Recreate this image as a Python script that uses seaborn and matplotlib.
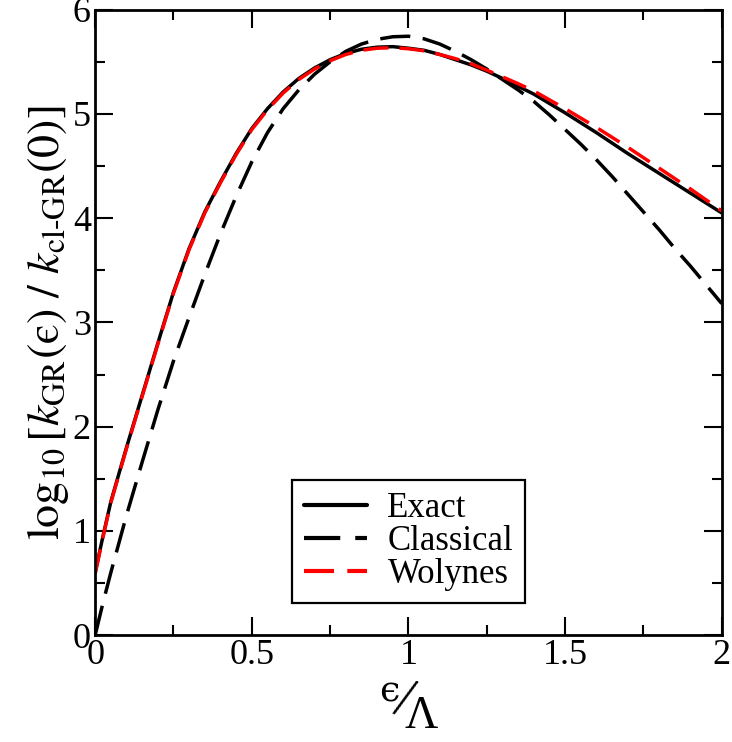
import numpy as np
import pandas as pd
import matplotlib
matplotlib.use("Agg")
import matplotlib.pyplot as plt
import seaborn as sns
from matplotlib.ticker import MultipleLocator, FuncFormatter

# ---- data ----
x_exact = [0.0, 0.025, 0.05, 0.1, 0.15, 0.2, 0.25, 0.3, 0.35, 0.4, 0.45, 0.5, 0.55, 0.6,
           0.65, 0.7, 0.75, 0.8, 0.85, 0.9, 0.95, 1.0, 1.05, 1.1, 1.15, 1.2, 1.25, 1.3,
           1.35, 1.4, 1.5, 1.6, 1.7, 1.8, 1.9, 2.0]
y_exact = [0.60, 0.95, 1.28, 1.80, 2.30, 2.80, 3.29, 3.71, 4.06, 4.35, 4.62, 4.86, 5.05, 5.21,
           5.34, 5.44, 5.52, 5.58, 5.62, 5.64, 5.645, 5.63, 5.61, 5.57, 5.52, 5.47, 5.41, 5.34,
           5.265, 5.19, 5.01, 4.82, 4.62, 4.43, 4.24, 4.05]

x_class = [0.0, 0.025, 0.05, 0.1, 0.15, 0.2, 0.25, 0.3, 0.35, 0.4, 0.45, 0.5, 0.55, 0.6,
           0.65, 0.7, 0.75, 0.8, 0.85, 0.9, 0.95, 1.0, 1.05, 1.1, 1.15, 1.2, 1.25, 1.3,
           1.35, 1.4, 1.45, 1.5, 1.55, 1.6, 1.65, 1.7, 1.75, 1.8, 1.85, 1.9, 1.95, 2.0]
y_class = [0.0, 0.31, 0.60, 1.15, 1.66, 2.16, 2.63, 3.05, 3.46, 3.85, 4.21, 4.54, 4.82, 5.05,
           5.23, 5.38, 5.50, 5.60, 5.67, 5.715, 5.74, 5.745, 5.72, 5.67, 5.60, 5.52, 5.43, 5.33,
           5.23, 5.12, 4.99, 4.85, 4.71, 4.56, 4.40, 4.23, 4.06, 3.89, 3.71, 3.54, 3.36, 3.18]

x_woly = [0.0, 0.025, 0.05, 0.1, 0.15, 0.2, 0.25, 0.3, 0.35, 0.4, 0.45, 0.5, 0.55, 0.6,
          0.65, 0.7, 0.75, 0.8, 0.85, 0.9, 0.95, 1.0, 1.05, 1.1, 1.15, 1.2, 1.25, 1.3,
          1.35, 1.4, 1.5, 1.6, 1.7, 1.8, 1.9, 2.0]
y_woly = [0.59, 0.94, 1.27, 1.79, 2.29, 2.79, 3.28, 3.70, 4.05, 4.34, 4.61, 4.85, 5.04, 5.20,
          5.33, 5.43, 5.51, 5.57, 5.61, 5.63, 5.635, 5.625, 5.605, 5.57, 5.53, 5.48, 5.42, 5.355,
          5.29, 5.22, 5.05, 4.87, 4.68, 4.48, 4.28, 4.07]

labels = ["Exact", "Classical", "Wolynes"]
x_ticklabels = ["0", "0.5", "1", "1.5", "2"]
y_ticklabels = ["0", "1", "2", "3", "4", "5", "6"]

df = pd.concat([
    pd.DataFrame({"x": x_exact, "y": y_exact, "series": labels[0]}),
    pd.DataFrame({"x": x_class, "y": y_class, "series": labels[1]}),
    pd.DataFrame({"x": x_woly, "y": y_woly, "series": labels[2]}),
], ignore_index=True)

sns.set_style("ticks")
plt.rcParams["font.family"] = ["Liberation Serif", "DejaVu Serif"]
plt.rcParams["mathtext.fontset"] = "stix"
plt.rcParams["text.color"] = "black"
plt.rcParams["axes.labelcolor"] = "black"
plt.rcParams["xtick.color"] = "black"
plt.rcParams["ytick.color"] = "black"

fig = plt.figure(figsize=(7.32, 7.42), dpi=100)
ax = fig.add_axes([0.130, 0.144, 0.856, 0.843])

palette = {"Exact": "black", "Classical": "black", "Wolynes": "#ff0000"}
sns.lineplot(data=df, x="x", y="y", hue="series", style="series", palette=palette,
             hue_order=labels, style_order=labels,
             dashes={"Exact": "", "Classical": (8.7, 3.6), "Wolynes": (7.2, 3.2)},
             sort=False, estimator=None, ax=ax, linewidth=2.5)

for ln in ax.get_lines():
    if ln.get_label() == "Wolynes":
        ln.set_linewidth(2.9)

ax.set_xlim(0, 2)
ax.set_ylim(0, 6)
ax.xaxis.set_major_locator(MultipleLocator(0.5))
ax.xaxis.set_minor_locator(MultipleLocator(0.25))
ax.yaxis.set_major_locator(MultipleLocator(1))
ax.yaxis.set_minor_locator(MultipleLocator(0.5))
ax.xaxis.set_major_formatter(FuncFormatter(
    lambda v, p: x_ticklabels[int(round(v / 0.5))] if 0 <= round(v / 0.5) < len(x_ticklabels) else ""))
ax.yaxis.set_major_formatter(FuncFormatter(
    lambda v, p: y_ticklabels[int(round(v))] if 0 <= round(v) < len(y_ticklabels) else ""))

ax.tick_params(which="both", direction="in", top=True, right=True, width=1.5,
               labelsize=26, pad=3, colors="black")
ax.tick_params(which="major", length=13)
ax.tick_params(which="minor", length=7)
for s in ax.spines.values():
    s.set_visible(True)
    s.set_linewidth(2.0)
    s.set_color("black")

# x label: slanted fraction  ϵ / Λ  built from three real text pieces
ax.set_xlabel("")
fig.text(389.5 / 732, 1 - 691 / 742, "\u03f5", fontsize=26, ha="center", va="center",
         family=["DejaVu Serif"])
fig.text(404 / 732, 1 - 702 / 742, "/", fontsize=40, ha="center", va="center",
         rotation=-18)
fig.text(421 / 732, 1 - 717 / 742, "\u039b", fontsize=33, ha="center", va="center")

ylab = (r"$\log_{10}[k_{\mathrm{GR}}(\mathrm{" + "\u03f5" +
        r"})\ /\ k_{\mathrm{cl\text{-}GR}}(0)]$")
ax.set_ylabel(ylab, fontsize=33, labelpad=1)

leg = ax.legend(loc="lower left", bbox_to_anchor=(0.314, 0.051), borderaxespad=0,
                fontsize=25, handlelength=1.8, handletextpad=0.6, labelspacing=0.0,
                borderpad=0.35, frameon=True, fancybox=False, edgecolor="black")
leg.get_frame().set_linewidth(1.6)
leg.get_frame().set_alpha(1)
for h in leg.get_lines():
    h.set_linewidth(3.0)

fig.savefig("out.png", dpi=100)
